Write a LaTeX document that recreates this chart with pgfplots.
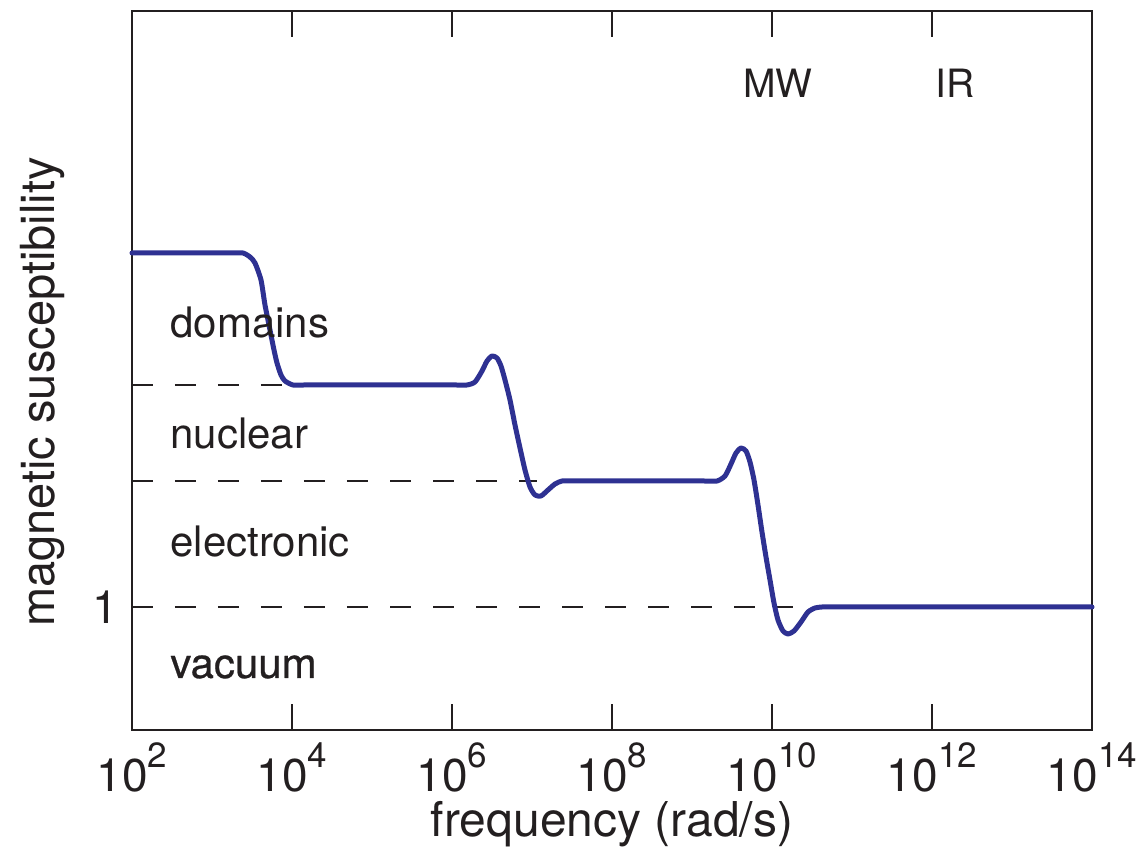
\documentclass[border=0pt]{standalone}
\usepackage{pgfplots}
\pgfplotsset{compat=1.18}
\usepackage{fontspec}
\setmainfont{TeX Gyre Heros}
\newfontfamily\heavier[FakeBold=0.6]{TeX Gyre Heros}
\definecolor{curve}{RGB}{46,49,146}
\definecolor{ink}{RGB}{35,31,32}
\newcommand{\tl}[1]{10\raisebox{12pt}{\fontsize{17.5}{17.5}\selectfont #1}}
\begin{document}
\begin{tikzpicture}
\begin{axis}[
  name=ax,
  scale only axis, width=480pt, height=359.5pt,
  xmin=2, xmax=14, ymin=0, ymax=719,
  clip=false,
  axis line style={ink, line width=1.2pt},
  tick align=inside,
  xtick={2,4,...,14},
  xticklabels={\tl{2},\tl{4},\tl{6},\tl{8},\tl{10},\tl{12},\tl{14}},
  xtick pos=both,
  xtick style={ink, line width=1pt, /pgfplots/major tick length=13pt},
  ytick={123}, yticklabels={1},
  ytick pos=left,
  ytick style={draw=none},
  xticklabel style={font=\fontsize{23}{23}\selectfont, text=ink, anchor=north, inner sep=0pt, yshift=-6pt},
  yticklabel style={font=\fontsize{23}{23}\selectfont, text=ink, anchor=east, inner sep=0pt, xshift=-7pt},
  xlabel={frequency (rad/s)},
  ylabel={magnetic susceptibility},
  xlabel style={font=\fontsize{24}{24}\selectfont, text=ink, at={([yshift=-53.5pt]rel axis cs:0.5,0)}, anchor=base, inner sep=0pt},
  ylabel style={font=\fontsize{23.5}{23.5}\selectfont, text=ink, at={([xshift=-38.5pt]rel axis cs:0,0.47)}, anchor=base, inner sep=0pt},
]
\addplot[ink, line width=0.7pt, dash pattern=on 10.5pt off 11pt] coordinates {(2,345) (3.98,345)};
\addplot[ink, line width=0.7pt, dash pattern=on 10.5pt off 11pt] coordinates {(2,249) (7.06,249)};
\addplot[ink, line width=0.7pt, dash pattern=on 10.5pt off 11pt] coordinates {(2,123) (10.26,123)};
\addplot[curve, line width=2.5pt, line join=round, line cap=round, smooth, tension=0.4] coordinates {
(2,477) (3.0,477) (3.25,477) (3.3875,477) (3.475,473) (3.5375,467) (3.6125,450) (3.6625,425) (3.725,400)
(3.775,380) (3.8125,367) (3.8625,355) (3.9125,349) (4.0125,345) (4.15,345) (4.4,345)
(5.8,345) (6.05,345) (6.1875,345) (6.2875,348) (6.375,359) (6.4375,369) (6.5,374) (6.5625,372) (6.6125,364)
(6.6625,350) (6.725,330) (6.7875,305) (6.85,282) (6.9125,260) (6.975,243) (7.0375,235)
(7.1125,234) (7.2,240) (7.2875,246) (7.375,249) (7.5,249) (7.75,249)
(8.9,249) (9.15,249) (9.3125,249) (9.4125,254) (9.4875,266) (9.55,277) (9.6125,282) (9.675,279) (9.725,268)
(9.775,250) (9.825,225) (9.875,198) (9.925,173) (9.975,150) (10.025,127) (10.075,110)
(10.1375,99) (10.2,96) (10.275,99) (10.3625,108) (10.45,118) (10.5375,122) (10.625,123) (10.75,123) (11.0,123)
(14,123)};
\node[anchor=base west, inner sep=0pt, font=\fontsize{21}{21}\selectfont, text=ink] at (axis cs:2.475,392) {domains};
\node[anchor=base west, inner sep=0pt, font=\fontsize{21}{21}\selectfont, text=ink] at (axis cs:2.475,281) {nuclear};
\node[anchor=base west, inner sep=0pt, font=\fontsize{21}{21}\selectfont, text=ink] at (axis cs:2.475,173) {electronic};
\node[anchor=base west, inner sep=0pt, font=\fontsize{21}{21}\heavier, text=ink] at (axis cs:2.475,52) {vacuum};
\node[anchor=base, inner sep=0pt, font=\fontsize{19.5}{19.5}\selectfont, text=ink] at (axis cs:10.075,632) {MW};
\node[anchor=base, inner sep=0pt, font=\fontsize{19.5}{19.5}\selectfont, text=ink] at (axis cs:12.29,632) {IR};
\end{axis}
\pgfresetboundingbox
\path[use as bounding box] ([xshift=-66pt,yshift=-60pt]ax.south west) rectangle ([xshift=25pt,yshift=5.5pt]ax.north east);
\end{tikzpicture}
\end{document}
